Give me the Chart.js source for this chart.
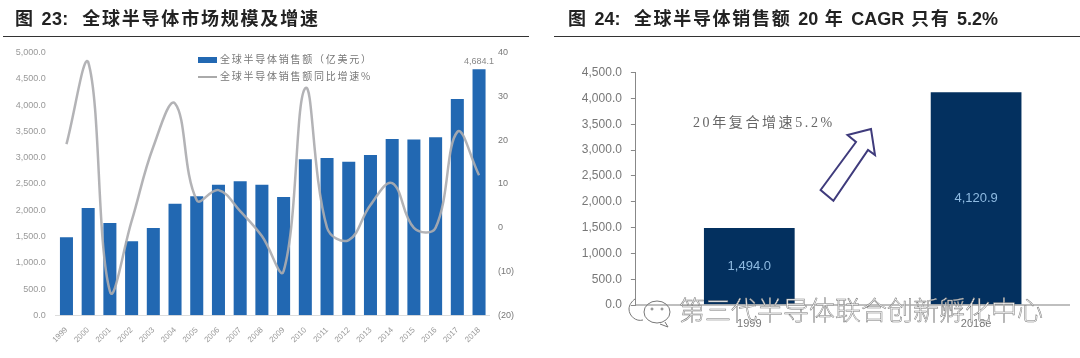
<!DOCTYPE html>
<html>
<head>
<meta charset="utf-8">
<script src="https://cdn.jsdelivr.net/npm/chart.js@4"></script>
<style>
html,body{margin:0;padding:0;background:#fff;width:1080px;height:358px;overflow:hidden}
body{position:relative;font-family:"Liberation Sans","Noto Sans CJK SC",sans-serif}
canvas{position:absolute;filter:blur(.45px)}
.title{position:absolute;top:4px;font-size:18px;font-weight:700;color:#222;white-space:nowrap;letter-spacing:1.8px;font-family:"Liberation Sans","Noto Sans CJK SC",sans-serif;filter:blur(.3px)}
.title b{letter-spacing:.3px}
.title.right{letter-spacing:1.7px}
.title.right b{letter-spacing:0}
.rule{position:absolute;top:36px;height:1px;background:#333}
.legend{position:absolute;left:198px;font-size:10px;color:#777;white-space:nowrap;letter-spacing:1.75px;line-height:12px;font-family:"Noto Sans CJK SC",sans-serif;filter:blur(.3px)}
.legend i{display:inline-block;width:19px;vertical-align:middle;margin-right:3px}
.note{position:absolute;left:693px;top:111px;font-size:14px;color:#666;letter-spacing:2.6px;white-space:nowrap;font-family:"Liberation Serif","Noto Sans CJK SC",serif;filter:blur(.4px)}
.mark{position:absolute;left:679px;top:293px;font-size:26px;line-height:32px;color:#fff;white-space:nowrap;-webkit-text-stroke:.5px #777;font-family:"Noto Sans CJK SC",sans-serif;font-weight:300}
svg{position:absolute;left:0;top:0}
</style>
</head>
<body>
<div class="title" style="left:15px">图 <b>23:</b>&nbsp; 全球半导体市场规模及增速</div>
<div class="rule" style="left:3px;width:526px"></div>
<div class="title right" style="left:568px">图 <b>24:</b>&nbsp; 全球半导体销售额 <b>20</b> 年 <b>CAGR</b> 只有 <b>5.2%</b></div>
<div class="rule" style="left:554px;width:526px"></div>

<canvas id="marketChart" width="540" height="318" style="left:0;top:40px"></canvas>
<canvas id="cagrChart" width="560" height="318" style="left:540px;top:40px"></canvas>

<div class="legend" id="legendA" style="top:53px"></div>
<div class="legend" id="legendB" style="top:70px"></div>
<div class="note">20年复合增速5.2%</div>

<svg width="1080" height="358">
  <polygon points="871,129 847.5,135 856,142 820.6,190 833.4,200.7 868,150 875,155" fill="#fff" stroke="#3f3b7c" stroke-width="2"/>
  <g fill="none" stroke="#777" stroke-width="1">
    <path d="M643 320c-7 2-14-4-14-11 0-4 3-8 6-10"/>
    <ellipse cx="657" cy="312" rx="13" ry="11"/>
    <path d="M665 322l3 5-8-3"/>
    <circle cx="652" cy="309" r="1"/><circle cx="662" cy="309" r="1"/>
  </g>
</svg>
<div class="mark">第三代半导体联合创新孵化中心</div>

<script>
var years = ["1999","2000","2001","2002","2003","2004","2005","2006","2007","2008","2009","2010","2011","2012","2013","2014","2015","2016","2017","2018"];
var sales = [1485,2044,1758,1410,1663,2125,2267,2488,2552,2488,2253,2970,2995,2925,3053,3358,3345,3390,4120,4684.1];
var growth = [19.1,37.9,-14.5,1.5,18.5,28.4,6.3,8.6,3.8,-1.9,-9.9,31.9,0,-2.8,5.2,10.2,0,0,21.9,12];
var salesLabel = "全球半导体销售额（亿美元）";
var growthLabel = "全球半导体销售额同比增速%";

var cagrYears = ["1999","2018e"];
var cagrSales = [1494.0,4120.9];

var fmt = function(v){
  return v.toLocaleString("en-US",{minimumFractionDigits:1,maximumFractionDigits:1});
};

// the 2018 label above the last bar
var lastBarLabel = {
  id:"lastBarLabel",
  afterDatasetsDraw:function(chart){
    var bar = chart.getDatasetMeta(0).data[sales.length-1];
    var ctx = chart.ctx;
    ctx.save();
    ctx.font = "9px 'Liberation Sans'";
    ctx.fillStyle = "#888";
    ctx.textAlign = "center";
    ctx.fillText(fmt(sales[sales.length-1]),bar.x,bar.y-5);
    ctx.restore();
  }
};

new Chart(document.getElementById("marketChart"),{
  type:"bar",
  data:{
    labels:years,
    datasets:[
      {label:salesLabel,data:sales,backgroundColor:"#2268b2",yAxisID:"y",order:2,barPercentage:.6,categoryPercentage:1},
      {type:"line",label:growthLabel,data:growth,borderColor:"rgba(172,172,176,.92)",borderWidth:2.5,pointRadius:0,tension:.4,yAxisID:"y1",order:1}
    ]
  },
  options:{
    responsive:false,
    animation:false,
    layout:{padding:{top:12.7}},
    plugins:{legend:{display:false},tooltip:{enabled:false}},
    scales:{
      x:{
        grid:{display:false},
        border:{color:"#ddd"},
        ticks:{color:"#999",font:{size:8,family:"Liberation Sans"},minRotation:45,maxRotation:45,padding:2},
        afterFit:function(s){s.height=42.7;}
      },
      y:{
        min:0,max:5000,
        grid:{display:false},
        border:{display:false},
        ticks:{stepSize:500,color:"#999",font:{size:9,family:"Liberation Sans"},padding:1.8,callback:function(v){return fmt(v);}},
        afterFit:function(s){s.width=55.6;}
      },
      y1:{
        position:"right",
        min:-20,max:40,
        grid:{display:false},
        border:{display:false},
        ticks:{stepSize:10,color:"#777",font:{size:9,family:"Liberation Sans"},padding:0,callback:function(v){return v<0?"("+(-v)+")":v;}},
        afterFit:function(s){s.width=50.1;}
      }
    }
  },
  plugins:[lastBarLabel]
});

// value labels inside the bars, baseline stops short of the plot edge
var cagrExtras = {
  id:"cagrExtras",
  afterDatasetsDraw:function(chart){
    var ctx = chart.ctx;
    var area = chart.chartArea;
    var base = chart.scales.y.getPixelForValue(0);
    ctx.save();
    ctx.strokeStyle = "#aaa";
    ctx.lineWidth = 1.5;
    ctx.beginPath();
    ctx.moveTo(area.left,base);
    ctx.lineTo(530,base);
    ctx.stroke();
    ctx.font = "13px 'Liberation Sans'";
    ctx.fillStyle = "#8fbbe2";
    ctx.textAlign = "center";
    ctx.textBaseline = "middle";
    chart.getDatasetMeta(0).data.forEach(function(bar,i){
      ctx.fillText(fmt(cagrSales[i]),bar.x,(bar.y+base)/2);
    });
    ctx.restore();
  }
};

new Chart(document.getElementById("cagrChart"),{
  type:"bar",
  data:{
    labels:cagrYears,
    datasets:[{data:cagrSales,backgroundColor:"#03305f",barPercentage:.4,categoryPercentage:1}]
  },
  options:{
    responsive:false,
    animation:false,
    layout:{padding:{top:32.7,right:10.5}},
    plugins:{legend:{display:false},tooltip:{enabled:false}},
    scales:{
      x:{
        grid:{display:false},
        border:{display:false},
        ticks:{color:"#777",font:{size:11,family:"Liberation Sans"},maxRotation:0,padding:4},
        afterFit:function(s){s.height=53;}
      },
      y:{
        min:0,max:4500,
        grid:{drawOnChartArea:false,drawTicks:true,tickLength:5,tickColor:"#888"},
        border:{display:true,color:"#888"},
        ticks:{stepSize:500,color:"#777",font:{size:12,family:"Liberation Sans"},padding:9,callback:function(v){return fmt(v);}},
        afterFit:function(s){s.width=95.9;}
      }
    }
  },
  plugins:[cagrExtras]
});

document.getElementById("legendA").innerHTML = '<i style="height:6px;background:#2268b2"></i>'+salesLabel;
document.getElementById("legendB").innerHTML = '<i style="height:2px;background:#aaa"></i>'+growthLabel;
</script>
</body>
</html>
